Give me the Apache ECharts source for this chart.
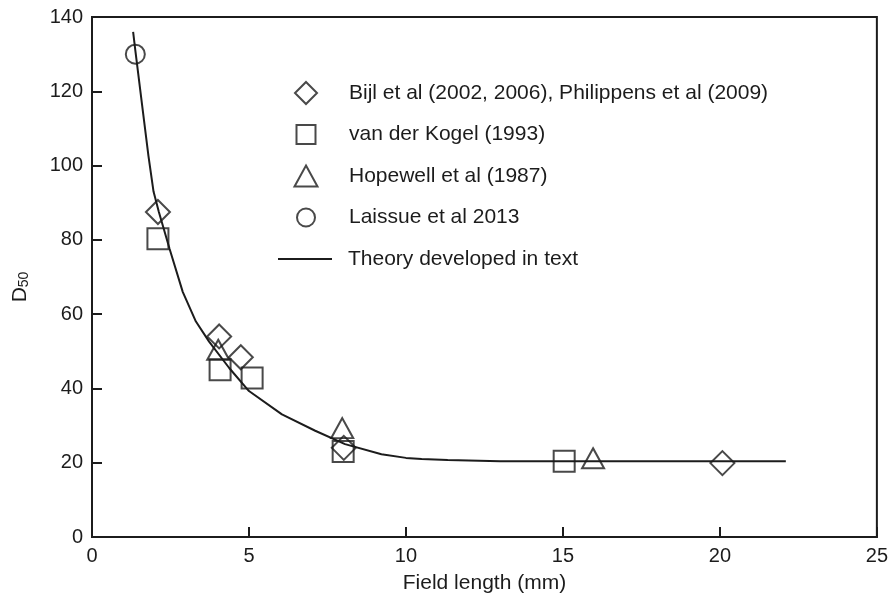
<!DOCTYPE html>
<html>
<head>
<meta charset="utf-8">
<title>D50 vs field length</title>
<script src="https://cdn.jsdelivr.net/npm/echarts@6/dist/echarts.min.js"></script>
<style>
  html, body { margin: 0; padding: 0; background: #fff; }
  #chart { width: 891px; height: 599px; }
</style>
</head>
<body>
<div id="chart"></div>
<script>
// Measured D50 values against field length (mm), per study
const bijlX = [2.1, 4.05, 4.74, 8.02, 20.08];
const bijlY = [87.5, 54, 48.4, 24, 19.9];

const kogelX = [2.1, 4.08, 5.1, 8.0, 15.04];
const kogelY = [80.3, 45, 42.8, 23, 20.4];

const hopewellX = [4.02, 7.97, 15.96];
const hopewellY = [50.4, 29.3, 21.2];

const laissueX = [1.38];
const laissueY = [130];

// Theoretical curve
const theoryX = [1.31, 1.38, 1.6, 1.8, 1.96, 2.13, 2.47, 2.89, 3.31, 3.73, 4.37, 5.0, 6.05, 7.11, 8.06, 9.22, 10.0, 10.5, 11.33, 13, 15, 18, 22.1];
const theoryY = [136, 131, 116, 102.5, 93, 87.5, 77.6, 66, 58, 52.6, 45.5, 39.3, 33, 28.6, 25, 22.3, 21.3, 21.0, 20.7, 20.4, 20.4, 20.4, 20.4];

const xTicks = [0, 5, 10, 15, 20, 25];
const yTicks = [0, 20, 40, 60, 80, 100, 120, 140];

const seriesNames = [
  'Bijl et al (2002, 2006), Philippens et al (2009)',
  'van der Kogel (1993)',
  'Hopewell et al (1987)',
  'Laissue et al 2013',
  'Theory developed in text'
];

const ink = '#1c1c1c';
const font = '"Liberation Sans", Arial, Helvetica, sans-serif';

function pairs(xs, ys) {
  return xs.map((x, i) => [x, ys[i]]);
}

const markerStyle = {
  color: 'rgba(0,0,0,0)',
  borderColor: ink,
  borderWidth: 2
};

// Key layout: one block per entry so every icon keeps its own size
const keyIconCenterX = 305;
const keyTextLeft = 349;
const keyRowTop = 93;
const keyRowStep = 41.5;
const keyTextHeight = 24;

function keyEntry(index, iconW, iconH, extra) {
  const cy = keyRowTop + index * keyRowStep;
  const left = keyIconCenterX - iconW / 2;
  const h = Math.max(iconH, keyTextHeight);
  return Object.assign({
    orient: 'vertical',
    left: left,
    top: cy - h / 2,
    padding: 0,
    itemWidth: iconW,
    itemHeight: iconH,
    selectedMode: false,
    data: [seriesNames[index]],
    textStyle: {
      fontFamily: font,
      fontSize: 21,
      color: ink,
      lineHeight: keyTextHeight,
      padding: [0, 0, 0, keyTextLeft - 1 - (left + iconW + 5)]
    }
  }, extra || {});
}

const chart = echarts.init(document.getElementById('chart'), null, { renderer: 'canvas' });

chart.setOption({
  backgroundColor: '#fff',
  animation: false,
  textStyle: { fontFamily: font, color: ink },
  grid: {
    left: 92, right: 9, top: 17, bottom: 59,
    show: true,
    borderColor: ink,
    borderWidth: 2,
    backgroundColor: 'rgba(0,0,0,0)'
  },
  legend: [
    keyEntry(0, 22, 22),
    keyEntry(1, 19, 19),
    keyEntry(2, 23, 21),
    keyEntry(3, 18, 18),
    keyEntry(4, 54, 2, {
      icon: 'rect',
      itemStyle: { color: ink, borderWidth: 0 }
    })
  ],
  xAxis: {
    type: 'value',
    min: xTicks[0],
    max: xTicks[xTicks.length - 1],
    interval: 5,
    name: 'Field length (mm)',
    nameLocation: 'middle',
    nameGap: 36,
    nameTextStyle: { fontFamily: font, fontSize: 21, color: ink },
    axisLine: { show: true, lineStyle: { color: ink, width: 2 } },
    axisTick: { show: true, inside: true, length: 10, lineStyle: { color: ink, width: 2 } },
    axisLabel: { fontFamily: font, fontSize: 20, color: ink, margin: 9 },
    splitLine: { show: false }
  },
  yAxis: {
    type: 'value',
    min: yTicks[0],
    max: yTicks[yTicks.length - 1],
    interval: 20,
    name: '{d|D}{s|50}',
    nameLocation: 'middle',
    nameGap: 61,
    nameTextStyle: {
      padding: [0, 20, 0, 0],
      rich: {
        d: { fontFamily: font, fontSize: 21, color: ink },
        s: { fontFamily: font, fontSize: 14, color: ink, padding: [8, 0, 0, 0] }
      }
    },
    axisLine: { show: true, lineStyle: { color: ink, width: 2 } },
    axisTick: { show: true, inside: true, length: 10, lineStyle: { color: ink, width: 2 } },
    axisLabel: { fontFamily: font, fontSize: 20, color: ink, margin: 9 },
    splitLine: { show: false }
  },
  series: [
    {
      name: seriesNames[4],
      type: 'line',
      data: pairs(theoryX, theoryY),
      symbol: 'none',
      smooth: false,
      lineStyle: { color: ink, width: 2 },
      itemStyle: { color: ink },
      z: 1
    },
    {
      name: seriesNames[0],
      type: 'scatter',
      data: pairs(bijlX, bijlY),
      symbol: 'diamond',
      symbolSize: 24,
      itemStyle: markerStyle,
      z: 3
    },
    {
      name: seriesNames[1],
      type: 'scatter',
      data: pairs(kogelX, kogelY),
      symbol: 'rect',
      symbolSize: 21,
      itemStyle: markerStyle,
      z: 3
    },
    {
      name: seriesNames[2],
      type: 'scatter',
      data: pairs(hopewellX, hopewellY),
      symbol: 'triangle',
      symbolSize: [22, 20],
      itemStyle: markerStyle,
      z: 3
    },
    {
      name: seriesNames[3],
      type: 'scatter',
      data: pairs(laissueX, laissueY),
      symbol: 'circle',
      symbolSize: 19,
      itemStyle: markerStyle,
      z: 3
    }
  ]
});
</script>
</body>
</html>
